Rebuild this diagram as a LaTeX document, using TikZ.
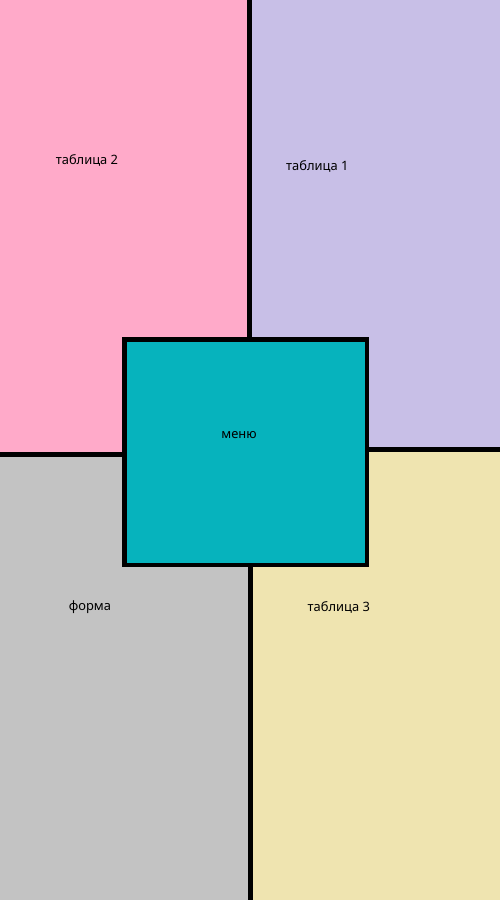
\documentclass[tikz,border=0pt]{standalone}
\usepackage{fontspec}
\setmainfont{Noto Sans}
\usetikzlibrary{positioning, calc}
\definecolor{cPink}{RGB}{255,170,201}
\definecolor{cLav}{RGB}{200,191,231}
\definecolor{cGrey}{RGB}{195,195,195}
\definecolor{cSand}{RGB}{239,228,176}
\definecolor{cTeal}{RGB}{6,179,189}

\begin{document}
\begin{tikzpicture}[x=1pt, y=-1pt, wall/.style={line width=5pt},
    tag/.style={font=\fontsize{12.9}{14}\selectfont, inner sep=0pt}]
    \useasboundingbox (0,0) rectangle (500,900);

    % four areas
    \fill[cPink] (0,0) rectangle (249.5,454);
    \fill[cLav] (249.5,0) rectangle (500,449);
    \fill[cGrey] (0,454) rectangle (250.5,900);
    \fill[cSand] (250.5,449) rectangle (500,900);

    % dividing walls
    \coordinate (top) at (249.5,0);
    \coordinate (bottom) at (250.5,900);
    \coordinate (left) at (0,454);
    \coordinate (right) at (500,449);

    \node[draw, line width=4.7pt, fill=cTeal, inner sep=0pt,
          minimum width=242.5pt, minimum height=225.3pt] (menu) at (245.75,452.35) {};

    \draw[wall] (top) -- (top |- menu.north);
    \draw[wall] (bottom) -- (bottom |- menu.south);
    \draw[wall] (left) -- (left -| menu.west);
    \draw[wall] (right) -- (right -| menu.east);

    \node[tag] (menutext) at (239,435) {меню};
    \node[tag] (tab2) at (87,160.7) {таблица 2};
    \node[tag] (tab1) at (317.3,166.3) {таблица 1};
    \node[tag] (form) at (90,606.7) {форма};
    \node[tag] (tab3) at (338.8,607) {таблица 3};
\end{tikzpicture}
\end{document}
